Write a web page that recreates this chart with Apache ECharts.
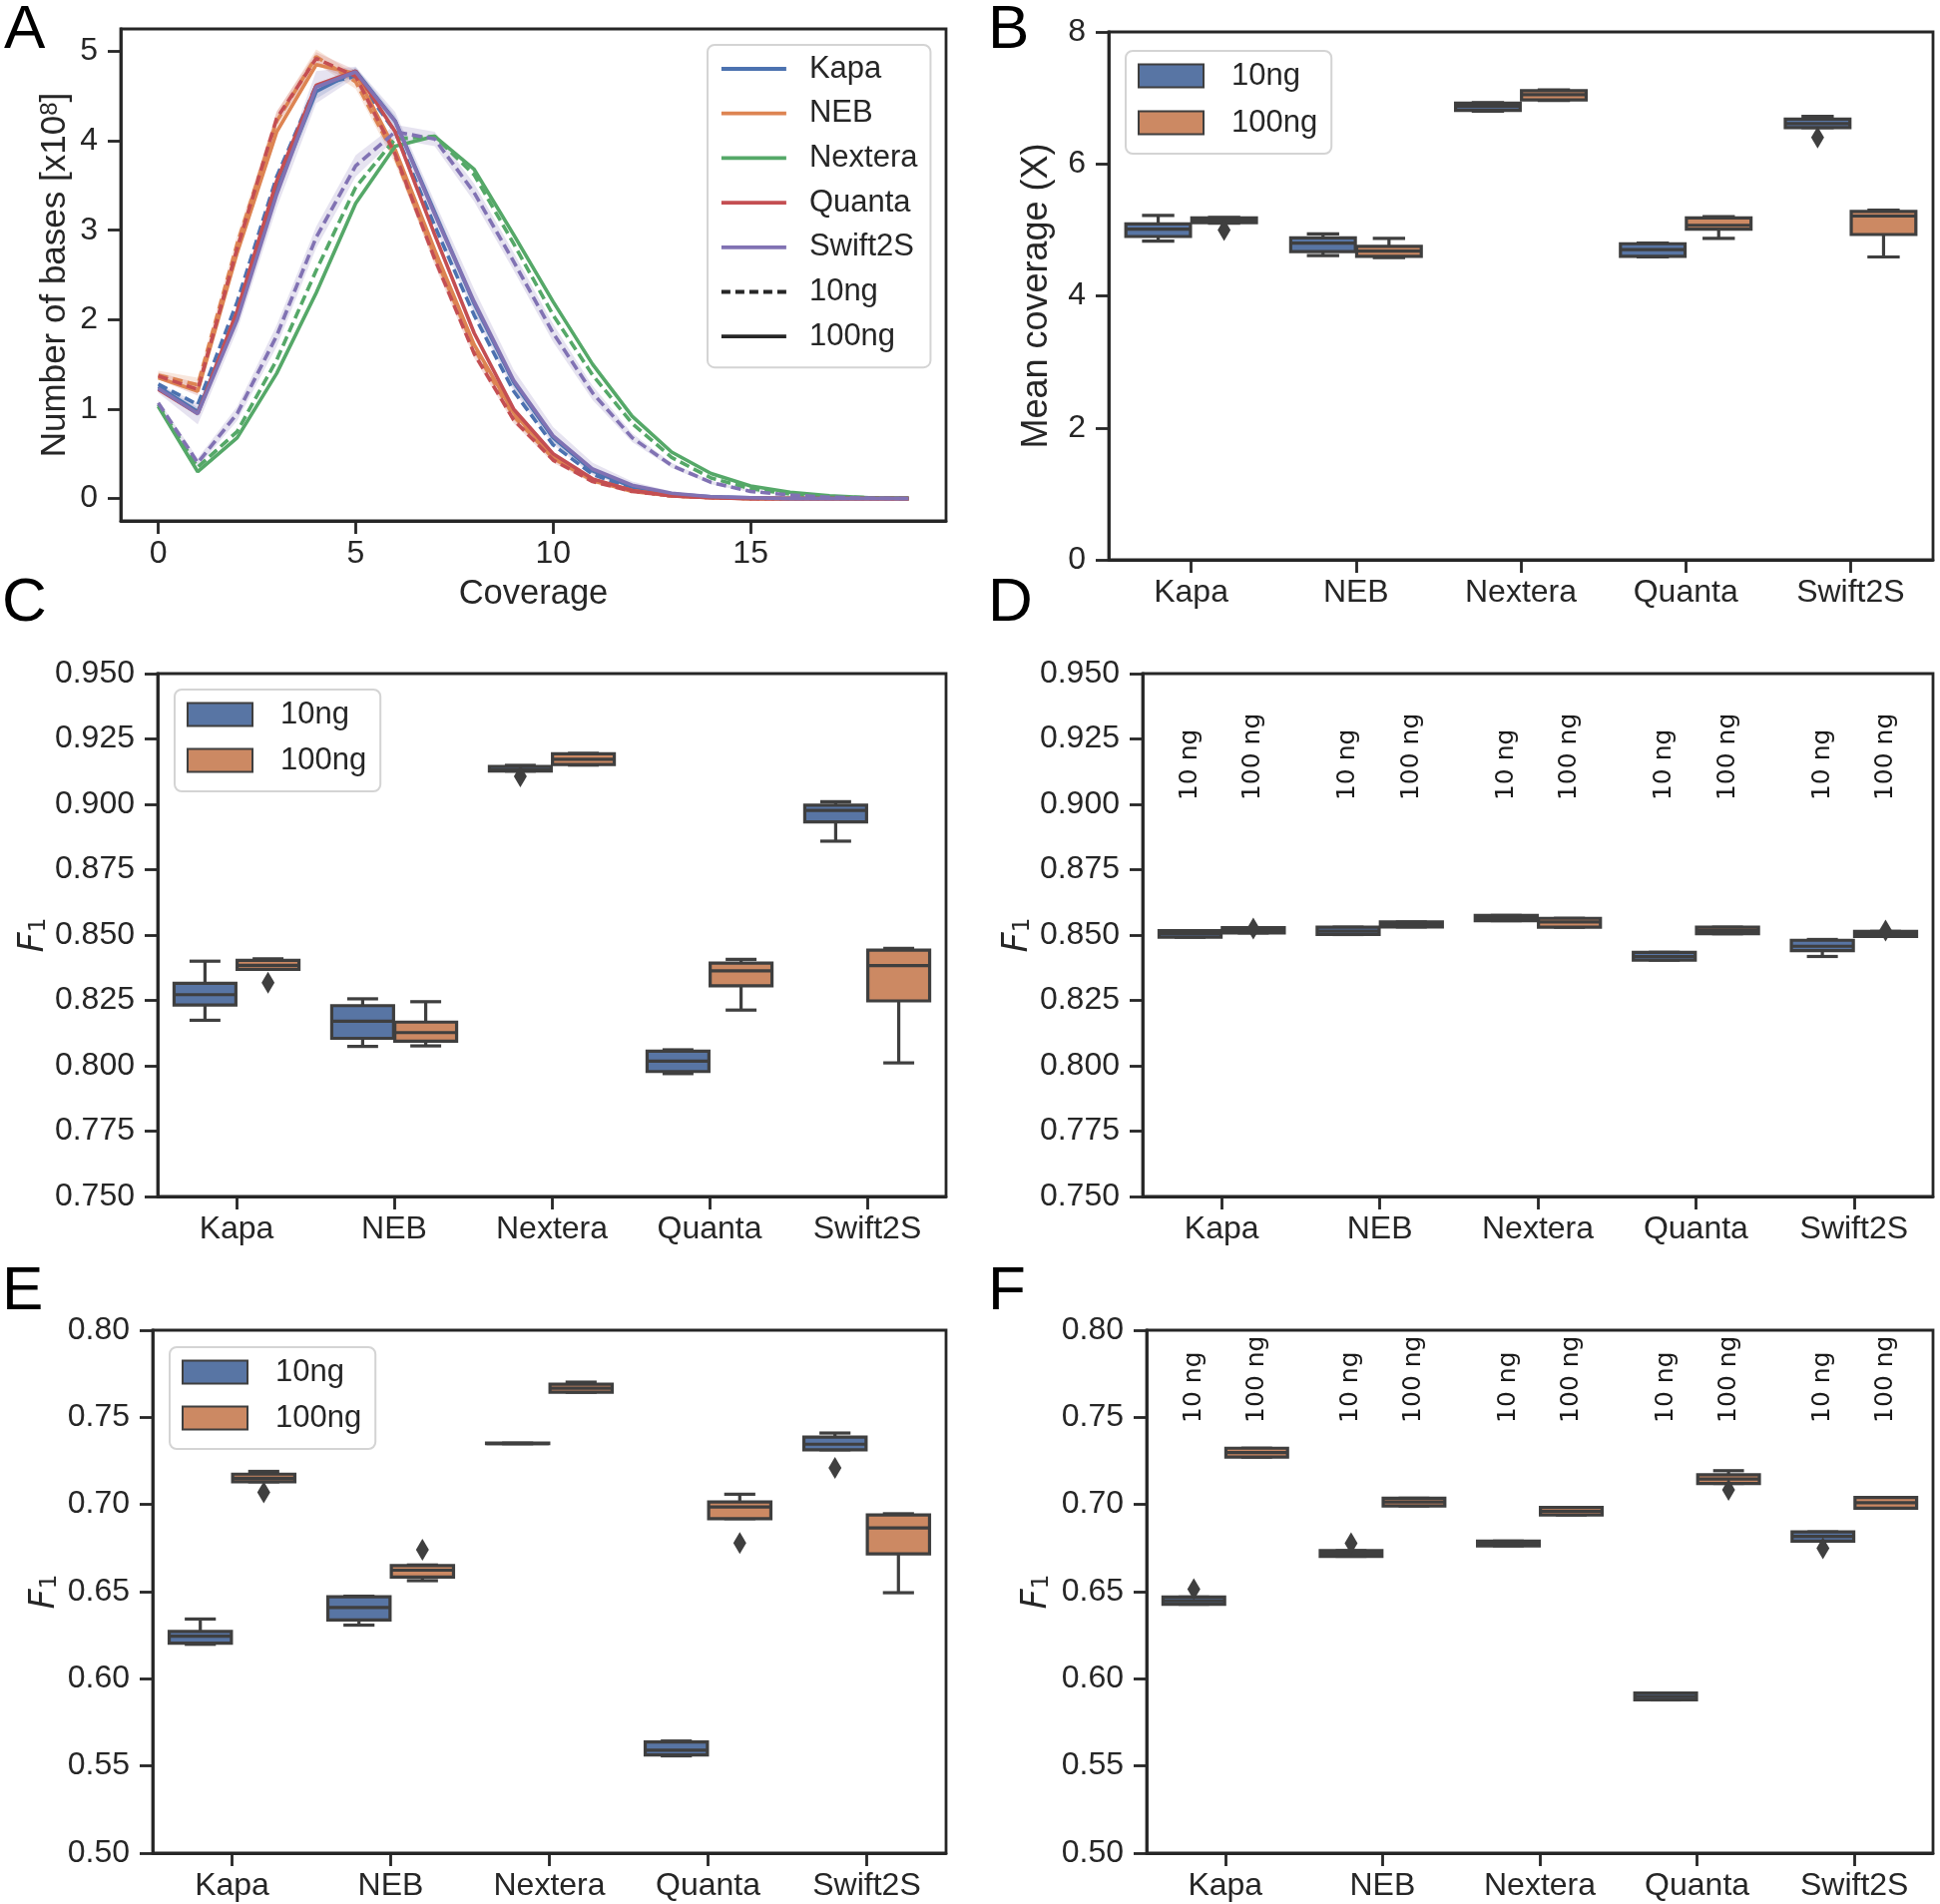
<!DOCTYPE html>
<html>
<head>
<meta charset="utf-8">
<script src="https://cdn.jsdelivr.net/npm/echarts@6/dist/echarts.min.js"></script>
<style>
html,body{margin:0;padding:0;background:#fff;}
#chart{width:1944px;height:1908px;}
</style>
</head>
<body>
<div id="chart"></div>
<script>
// ---------------- DATA ----------------
const kits = ['Kapa', 'NEB', 'Nextera', 'Quanta', 'Swift2S'];
const amounts = ['10ng', '100ng'];
const coverage = [0,1,2,3,4,5,6,7,8,9,10,11,12,13,14,15,16,17,18,19];
const coverageTicks = [0, 5, 10, 15];
const basesTicks = [0, 1, 2, 3, 4, 5];

// Panel A: number of bases (x10^8) per coverage value
const kapa10     = [1.28,1.05,2.20,3.60,4.62,4.72,4.10,3.05,2.05,1.20,0.60,0.27,0.11,0.04,0.015,0.005,0,0,0,0];
const kapa100    = [1.25,0.97,2.05,3.45,4.55,4.78,4.22,3.20,2.18,1.30,0.68,0.31,0.13,0.05,0.02,0.01,0,0,0,0];
const neb10      = [1.38,1.27,2.85,4.22,4.94,4.66,3.82,2.72,1.68,0.92,0.45,0.20,0.08,0.03,0.01,0,0,0,0,0];
const neb100     = [1.35,1.20,2.75,4.10,4.85,4.75,3.90,2.78,1.72,0.96,0.47,0.21,0.09,0.03,0.01,0,0,0,0,0];
const nextera10  = [1.05,0.35,0.75,1.55,2.55,3.48,4.02,4.05,3.62,2.85,2.05,1.38,0.84,0.46,0.23,0.11,0.05,0.02,0.01,0];
const nextera100 = [1.03,0.30,0.68,1.40,2.30,3.30,3.94,4.05,3.68,2.95,2.20,1.50,0.92,0.52,0.28,0.14,0.07,0.03,0.01,0.005];
const quanta10   = [1.37,1.22,2.80,4.25,4.92,4.72,3.85,2.68,1.62,0.88,0.43,0.19,0.08,0.03,0.01,0,0,0,0,0];
const quanta100  = [1.22,0.95,2.10,3.55,4.62,4.78,4.10,2.95,1.85,1.00,0.50,0.22,0.09,0.03,0.01,0,0,0,0,0];
const swift10    = [1.07,0.40,0.95,1.82,2.92,3.72,4.10,4.02,3.42,2.65,1.85,1.18,0.68,0.37,0.18,0.08,0.04,0.015,0.005,0];
const swift100   = [1.23,0.95,2.00,3.40,4.60,4.77,4.22,3.18,2.20,1.32,0.70,0.33,0.15,0.06,0.02,0.01,0,0,0,0];
// confidence half-widths (visible bands)
const swift100Ci = [0.05,0.12,0.12,0.15,0.18,0.06,0.10,0.14,0.14,0.12,0.10,0.07,0.04,0.02,0.01,0,0,0,0,0];
const neb10Ci    = [0.05,0.08,0.10,0.10,0.08,0.08,0.08,0.08,0.06,0.05,0.03,0.02,0.01,0,0,0,0,0,0,0];
const quanta10Ci = [0.04,0.07,0.08,0.08,0.07,0.07,0.07,0.07,0.05,0.04,0.03,0.02,0.01,0,0,0,0,0,0,0];
const swift10Ci  = [0.03,0.05,0.08,0.12,0.12,0.12,0.08,0.08,0.10,0.10,0.10,0.08,0.05,0.03,0.02,0.01,0,0,0,0];
const kapa100Ci  = [0.03,0.05,0.06,0.08,0.08,0.04,0.06,0.07,0.07,0.06,0.05,0.03,0.02,0.01,0,0,0,0,0,0];

// Box plots: [min, Q1, median, Q3, max] per kit
const B10  = [[4.83,4.90,5.01,5.09,5.22],[4.61,4.67,4.80,4.88,4.94],[6.80,6.81,6.87,6.92,6.93],[4.59,4.60,4.70,4.79,4.80],[6.55,6.55,6.61,6.68,6.72]];
const B100 = [[5.10,5.11,5.15,5.18,5.19],[4.58,4.60,4.68,4.75,4.87],[6.96,6.97,7.05,7.11,7.12],[4.87,5.01,5.07,5.18,5.20],[4.59,4.93,5.21,5.28,5.30]];
const Bout = [[0,1,5.00],[4,0,6.40]]; // [kit, amount, value]

const C10  = [[0.8174,0.8232,0.8272,0.8315,0.8400],[0.8074,0.8105,0.8170,0.8230,0.8256],[0.9127,0.9127,0.9133,0.9145,0.9149],[0.7970,0.7978,0.8018,0.8056,0.8061],[0.8859,0.8933,0.8977,0.8997,0.9010]];
const C100 = [[0.8369,0.8369,0.8384,0.8403,0.8409],[0.8076,0.8094,0.8127,0.8167,0.8245],[0.9150,0.9152,0.9172,0.9193,0.9195],[0.8213,0.8306,0.8363,0.8393,0.8407],[0.8011,0.8248,0.8383,0.8442,0.8449]];
const Cout = [[0,1,0.8318],[2,0,0.9107]];

const D10  = [[0.8492,0.8492,0.8505,0.8517,0.8517],[0.8502,0.8502,0.8515,0.8530,0.8530],[0.8555,0.8555,0.8565,0.8575,0.8575],[0.8404,0.8404,0.8418,0.8434,0.8434],[0.8418,0.8440,0.8457,0.8480,0.8483]];
const D100 = [[0.8508,0.8508,0.8518,0.8528,0.8528],[0.8531,0.8531,0.8540,0.8550,0.8550],[0.8530,0.8530,0.8550,0.8564,0.8564],[0.8505,0.8505,0.8518,0.8530,0.8530],[0.8495,0.8495,0.8505,0.8514,0.8514]];
const Dout = [[0,1,0.8525],[4,1,0.8517]];

const E10  = [[0.6198,0.6205,0.6244,0.6272,0.6343],[0.6308,0.6338,0.6409,0.6471,0.6474],[0.7349,0.7349,0.7350,0.7352,0.7352],[0.5558,0.5563,0.5590,0.5638,0.5643],[0.7314,0.7314,0.7346,0.7387,0.7410]];
const E100 = [[0.7130,0.7130,0.7151,0.7174,0.7190],[0.6563,0.6584,0.6623,0.6650,0.6653],[0.7644,0.7644,0.7667,0.7690,0.7702],[0.6919,0.6919,0.6986,0.7015,0.7059],[0.6494,0.6717,0.6866,0.6940,0.6947]];
const Eout = [[0,1,0.7070],[1,1,0.6740],[3,1,0.6779],[4,0,0.7210]];

const F10  = [[0.6428,0.6428,0.6448,0.6469,0.6469],[0.6703,0.6703,0.6720,0.6735,0.6735],[0.6763,0.6763,0.6776,0.6790,0.6790],[0.5879,0.5879,0.5898,0.5918,0.5918],[0.6790,0.6790,0.6817,0.6843,0.6843]];
const F100 = [[0.7272,0.7272,0.7298,0.7323,0.7323],[0.6992,0.6992,0.7014,0.7036,0.7036],[0.6940,0.6940,0.6961,0.6983,0.6983],[0.7121,0.7121,0.7146,0.7171,0.7194],[0.6979,0.6979,0.7010,0.7040,0.7040]];
const Fout = [[0,0,0.6515],[1,0,0.6777],[3,1,0.7084],[4,0,0.6749]];

const groupLabels = ['10 ng', '100 ng'];

// ---------------- STYLE ----------------
const FONT = '"Liberation Sans", Arial, sans-serif';
const INK = '#262626';
const LINE = '#3f3f3f';
const kitColors = ['#4C72B0', '#DD8452', '#55A868', '#C44E52', '#8172B3'];
const FILL10 = '#5875A4', FILL100 = '#CC8963';
const BOXW = 3.2;

const chart = echarts.init(document.getElementById('chart'), null, {renderer: 'canvas'});

const grids = [
  {left: 121, top: 29, width: 827, height: 493},
  {left: 1111, top: 32, width: 826, height: 529},
  {left: 158, top: 675, width: 790, height: 524},
  {left: 1145, top: 675, width: 792, height: 524},
  {left: 153, top: 1333, width: 795, height: 524},
  {left: 1149, top: 1333, width: 788, height: 524}
].map(g => Object.assign({show: true, borderColor: INK, borderWidth: 2.8, backgroundColor: 'transparent'}, g));

const axisLineS = {show: true, onZero: false, lineStyle: {color: INK, width: 2.8}};
const tickS = {show: true, length: 13, lineStyle: {color: INK, width: 2.8}};
const labelS = {color: INK, fontSize: 32, fontFamily: FONT};

function catX(idx) {
  return {type: 'category', gridIndex: idx, data: kits, boundaryGap: true,
    axisLine: axisLineS, axisTick: Object.assign({alignWithLabel: true}, tickS),
    axisLabel: Object.assign({margin: 17}, labelS), splitLine: {show: false}};
}
const f1Name = {
  name: '{f|F}{s|1}', nameLocation: 'middle',
  nameTextStyle: {rich: {
    f: {fontSize: 35, fontStyle: 'italic', fontFamily: 'DejaVu Sans', color: INK, lineHeight: 35},
    s: {fontSize: 23, fontFamily: 'DejaVu Sans', color: INK, verticalAlign: 'bottom', lineHeight: 14}
  }}
};
function valY(idx, min, max, interval, dec, gap, extra) {
  return Object.assign({type: 'value', gridIndex: idx, min, max, interval,
    axisLine: axisLineS, axisTick: tickS,
    axisLabel: Object.assign({margin: 23, formatter: v => v.toFixed(dec)}, labelS),
    splitLine: {show: false}, nameGap: gap}, extra || {});
}

const xAxes = [
  {type: 'value', gridIndex: 0, min: -0.95, max: 19.95,
   axisLine: axisLineS, axisTick: Object.assign({customValues: coverageTicks}, tickS),
   axisLabel: Object.assign({margin: 17, customValues: coverageTicks}, labelS),
   splitLine: {show: false},
   name: 'Coverage', nameLocation: 'middle', nameGap: 56,
   nameTextStyle: {fontSize: 34.5, fontFamily: FONT, color: INK}},
  catX(1), catX(2), catX(3), catX(4), catX(5)
];
const yAxes = [
  {type: 'value', gridIndex: 0, min: -0.25, max: 5.25,
   axisLine: axisLineS, axisTick: Object.assign({customValues: basesTicks}, tickS),
   axisLabel: Object.assign({margin: 23, customValues: basesTicks}, labelS),
   splitLine: {show: false},
   name: 'Number of bases [x10{sup|8}]', nameLocation: 'middle', nameGap: 48,
   nameTextStyle: {fontSize: 35, fontFamily: FONT, color: INK,
     rich: {sup: {fontSize: 24, fontFamily: FONT, color: INK, verticalAlign: 'top', lineHeight: 16}}}},
  valY(1, 0, 8, 2, 0, 54, {name: 'Mean coverage (X)', nameLocation: 'middle',
     nameTextStyle: {fontSize: 36, fontFamily: FONT, color: INK}}),
  valY(2, 0.75, 0.95, 0.025, 3, 106, f1Name),
  valY(3, 0.75, 0.95, 0.025, 3, 108, f1Name),
  valY(4, 0.50, 0.80, 0.05, 2, 91, f1Name),
  valY(5, 0.50, 0.80, 0.05, 2, 93, f1Name)
];

// ---------------- SERIES ----------------
const series = [];
function band(vals, ci, color) {
  series.push({type: 'custom', name: 'band', xAxisIndex: 0, yAxisIndex: 0, silent: true, z: 1,
    data: [[coverage[0], vals[0]]], encode: {x: 0, y: 1},
    renderItem: function (params, api) {
      const up = coverage.map((c, i) => api.coord([c, vals[i] + ci[i]]));
      const dn = coverage.map((c, i) => api.coord([c, vals[i] - ci[i]])).reverse();
      return {type: 'polygon', shape: {points: up.concat(dn)}, style: {fill: color, opacity: 0.2}};
    }});
}
band(kapa100, kapa100Ci, kitColors[0]);
band(neb10, neb10Ci, kitColors[1]);
band(quanta10, quanta10Ci, kitColors[3]);
band(swift10, swift10Ci, kitColors[4]);
band(swift100, swift100Ci, kitColors[4]);

const lineSets = [
  [kapa10, kapa100], [neb10, neb100], [nextera10, nextera100], [quanta10, quanta100], [swift10, swift100]
];
lineSets.forEach((pair, k) => {
  series.push({type: 'line', name: kits[k] + ' 10ng', xAxisIndex: 0, yAxisIndex: 0, symbol: 'none', z: 3,
    color: kitColors[k], lineStyle: {color: kitColors[k], width: 3.6, type: [10, 5]},
    data: coverage.map((c, i) => [c, pair[0][i]])});
  series.push({type: 'line', name: kits[k], xAxisIndex: 0, yAxisIndex: 0, symbol: 'none', z: 3,
    color: kitColors[k], lineStyle: {color: kitColors[k], width: 3.6, type: 'solid'},
    data: coverage.map((c, i) => [c, pair[1][i]])});
});
series.push({type: 'line', name: '10ng', xAxisIndex: 0, yAxisIndex: 0, symbol: 'none', color: INK,
  lineStyle: {color: INK, width: 3.6, type: [9, 5]}, data: []});
series.push({type: 'line', name: '100ng', xAxisIndex: 0, yAxisIndex: 0, symbol: 'none', color: INK,
  lineStyle: {color: INK, width: 3.6, type: 'solid'}, data: []});

function boxSeries(panel, name, rows, side, fill) {
  return {
    type: 'custom', name: name, xAxisIndex: panel, yAxisIndex: panel, color: fill,
    dimensions: ['kit', 'min', 'q1', 'med', 'q3', 'max'],
    encode: {x: 0, y: [1, 2, 3, 4, 5]},
    data: rows.map((r, i) => [i].concat(r)),
    renderItem: function (params, api) {
      const i = api.value(0);
      const bw = api.size([1, 0])[0];
      const cx = api.coord([i, api.value(3)])[0] + side * 0.2 * bw;
      const w = 0.392 * bw;
      const y = k => api.coord([i, api.value(k)])[1];
      const yMin = y(1), yQ1 = y(2), yMed = y(3), yQ3 = y(4), yMax = y(5);
      const ls = {stroke: LINE, lineWidth: BOXW, fill: null};
      return {type: 'group', children: [
        {type: 'line', shape: {x1: cx, y1: yQ1, x2: cx, y2: yMin}, style: ls},
        {type: 'line', shape: {x1: cx, y1: yQ3, x2: cx, y2: yMax}, style: ls},
        {type: 'line', shape: {x1: cx - w / 4, y1: yMin, x2: cx + w / 4, y2: yMin}, style: ls},
        {type: 'line', shape: {x1: cx - w / 4, y1: yMax, x2: cx + w / 4, y2: yMax}, style: ls},
        {type: 'rect', shape: {x: cx - w / 2, y: yQ3, width: w, height: Math.max(yQ1 - yQ3, 0.5)},
         style: {fill: fill, stroke: LINE, lineWidth: BOXW}},
        {type: 'line', shape: {x1: cx - w / 2, y1: yMed, x2: cx + w / 2, y2: yMed}, style: ls}
      ]};
    }
  };
}
function outlierSeries(panel, pts) {
  return {
    type: 'custom', name: 'outliers', xAxisIndex: panel, yAxisIndex: panel,
    dimensions: ['kit', 'amount', 'value'], encode: {x: 0, y: 2},
    data: pts,
    renderItem: function (params, api) {
      const i = api.value(0), side = api.value(1) ? 1 : -1;
      const bw = api.size([1, 0])[0];
      const p = api.coord([i, api.value(2)]);
      const cx = p[0] + side * 0.2 * bw, cy = p[1];
      return {type: 'polygon', shape: {points: [[cx, cy - 11], [cx + 6.5, cy], [cx, cy + 11], [cx - 6.5, cy]]},
        style: {fill: LINE}};
    }
  };
}
function groupLabelSeries(panel, yAt) {
  return {
    type: 'custom', name: 'labels', xAxisIndex: panel, yAxisIndex: panel,
    encode: {x: 0, y: 1}, data: kits.map((k, i) => [i, yAt]),
    renderItem: function (params, api) {
      const i = api.value(0);
      const bw = api.size([1, 0])[0];
      const p = api.coord([i, api.value(1)]);
      return {type: 'group', children: groupLabels.map((t, g) => ({
        type: 'text', x: p[0] + (g ? 1 : -1) * 0.2 * bw, y: p[1], rotation: Math.PI / 2,
        style: {text: t, fontSize: 25, fontFamily: 'DejaVu Sans', fill: '#1a1a1a', align: 'left', verticalAlign: 'middle'}
      }))};
    }
  };
}
const boxPanels = [[1, B10, B100, Bout], [2, C10, C100, Cout], [3, D10, D100, Dout], [4, E10, E100, Eout], [5, F10, F100, Fout]];
boxPanels.forEach(([p, a, b, o]) => {
  series.push(boxSeries(p, 'box10', a, -1, FILL10));
  series.push(boxSeries(p, 'box100', b, 1, FILL100));
  series.push(outlierSeries(p, o));
});
series.push(groupLabelSeries(3, 0.9015));
series.push(groupLabelSeries(5, 0.7468));

// ---------------- LEGENDS ----------------
const legendBase = {orient: 'vertical', selectedMode: false, borderColor: '#d4d4d4', borderWidth: 2,
  borderRadius: 7, backgroundColor: 'rgba(255,255,255,0.8)'};
const legendA = Object.assign({}, legendBase, {
  left: 709, top: 45, itemWidth: 65, itemHeight: 14, itemGap: 10.7, padding: [7, 13, 14, 12],
  data: ['Kapa', 'NEB', 'Nextera', 'Quanta', 'Swift2S', '10ng', '100ng'],
  textStyle: {fontFamily: FONT, fontSize: 31, color: INK, lineHeight: 34, padding: [0, 0, 0, 18]},
  itemStyle: {opacity: 0},
  lineStyle: {width: 3.8}
});
function boxLegend(left, top, gap) {
  return Object.assign({}, legendBase, {
    left: left, top: top, itemWidth: 65, itemHeight: 23, itemGap: gap, padding: [7, 14, 13, 12],
    data: [
      {name: 'box10', icon: 'rect', itemStyle: {color: FILL10, borderColor: LINE, borderWidth: 2}},
      {name: 'box100', icon: 'rect', itemStyle: {color: FILL100, borderColor: LINE, borderWidth: 2}}
    ],
    formatter: n => n === 'box10' ? amounts[0] : amounts[1],
    textStyle: {fontFamily: FONT, fontSize: 31, color: INK, lineHeight: 36, padding: [0, 0, 0, 23]}
  });
}

// ---------------- PANEL LETTERS ----------------
const letters = [['A', 4, 0], ['B', 990, 0], ['C', 2, 574], ['D', 990, 574], ['E', 2, 1264], ['F', 990, 1264]];
const graphic = letters.map(([t, x, y]) => ({type: 'text', left: x, top: y,
  style: {text: t, fontSize: 62, fontFamily: FONT, fill: '#000'}}));

chart.setOption({
  animation: false,
  backgroundColor: '#fff',
  grid: grids, xAxis: xAxes, yAxis: yAxes,
  legend: [legendA, boxLegend(1128, 51, 11), boxLegend(175, 691, 10), boxLegend(170, 1350, 10)],
  graphic: graphic,
  series: series
});
</script>
</body>
</html>
